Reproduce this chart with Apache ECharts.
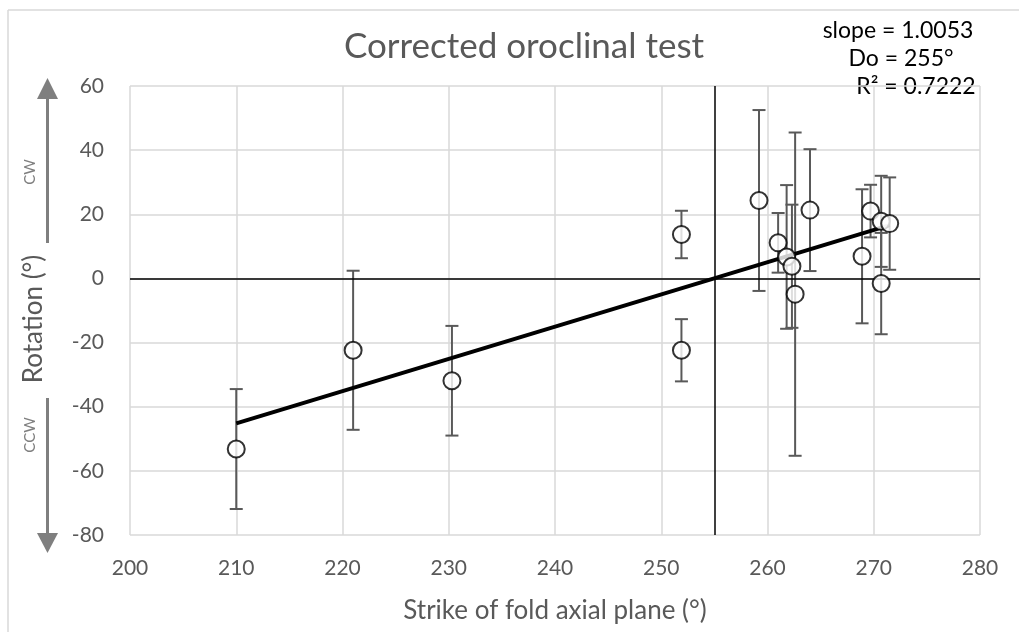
<!DOCTYPE html>
<html>
<head>
<meta charset="utf-8">
<script src="https://cdn.jsdelivr.net/npm/echarts@6/dist/echarts.min.js"></script>
<style>
  html, body { margin: 0; padding: 0; background: #ffffff; }
  #chart { width: 1019px; height: 632px; }
</style>
</head>
<body>
<div id="chart"></div>
<script>
// ---- data ----
const strikeValues   = [210.0, 221.0, 230.3, 251.9, 251.9, 259.2, 261.0, 261.8, 262.3, 262.6, 264.0, 268.9, 269.7, 270.7, 271.5, 270.7];
const rotationValues = [-53.2, -22.4, -31.9, 13.7, -22.4, 24.3, 11.1, 6.7, 3.8, -4.9, 21.3, 6.9, 21.0, 17.8, 17.1, -1.6];
const rotationErrors = [18.7, 24.8, 17.1, 7.4, 9.7, 28.2, 9.3, 22.4, 19.2, 50.4, 19.0, 20.9, 8.2, 14.2, 14.4, 15.8];
const trendX = [210, 271.5];
const trendY = [-45.2, 16.6];
const doStrike = 255;
const xTicks = [200, 210, 220, 230, 240, 250, 260, 270, 280];
const yTicks = [-80, -60, -40, -20, 0, 20, 40, 60];
const titleText = 'Corrected oroclinal test';
const xName = 'Strike of fold axial plane (°)';
const yName = 'Rotation (°)';
const statsLines = ['slope = 1.0053', 'Do = 255°', 'R² = 0.7222'];

const FONT = 'Lato, "Open Sans", sans-serif';
const chart = echarts.init(document.getElementById('chart'));

const points = strikeValues.map((x, i) => [x, rotationValues[i]]);
const errData = strikeValues.map((x, i) => [x, rotationValues[i] - rotationErrors[i], rotationValues[i] + rotationErrors[i]]);
const trendData = trendX.map((x, i) => [x, trendY[i]]);

const option = {
  backgroundColor: '#ffffff',
  animation: false,
  title: {
    text: titleText,
    left: 519,
    textAlign: 'center',
    top: 24,
    textStyle: { fontFamily: FONT, fontSize: 35, fontWeight: 'normal', color: '#595959' }
  },
  grid: { left: 130, right: 39, top: 86, height: 449 },
  xAxis: {
    type: 'value',
    min: xTicks[0], max: xTicks[xTicks.length - 1], interval: 10,
    name: xName,
    nameLocation: 'middle', nameGap: 63,
    nameTextStyle: { fontFamily: FONT, fontSize: 26, color: '#595959' },
    axisLine: { show: false },
    axisTick: { show: false },
    axisLabel: { fontFamily: FONT, fontSize: 21, color: '#595959', margin: 23 },
    splitLine: { show: true, lineStyle: { color: '#d9d9d9', width: 1.5 } }
  },
  yAxis: {
    type: 'value',
    min: yTicks[0], max: yTicks[yTicks.length - 1], interval: 20,
    axisLine: { show: false },
    axisTick: { show: false },
    axisLabel: { fontFamily: FONT, fontSize: 21, color: '#595959', margin: 26 },
    splitLine: { show: true, lineStyle: { color: '#d9d9d9', width: 1.5 } }
  },
  graphic: [
    { type: 'line', shape: { x1: 8, y1: 10, x2: 1019, y2: 10 }, style: { stroke: '#d9d9d9', lineWidth: 1.5 } },
    { type: 'line', shape: { x1: 8, y1: 10, x2: 8, y2: 632 }, style: { stroke: '#d9d9d9', lineWidth: 1.5 } },
    // CW arrow
    { type: 'line', shape: { x1: 47.5, y1: 96, x2: 47.5, y2: 243 }, style: { stroke: '#7f7f7f', lineWidth: 3 } },
    { type: 'polygon', shape: { points: [[47.5, 78], [37, 99], [58, 99]] }, style: { fill: '#7f7f7f' } },
    // CCW arrow
    { type: 'line', shape: { x1: 47.5, y1: 398, x2: 47.5, y2: 536 }, style: { stroke: '#7f7f7f', lineWidth: 3 } },
    { type: 'polygon', shape: { points: [[47.5, 553], [37, 533], [58, 533]] }, style: { fill: '#7f7f7f' } },
    { type: 'text', x: 30, y: 172, rotation: Math.PI / 2,
      style: { text: 'CW', fontFamily: FONT, fontSize: 15, fill: '#7f7f7f', align: 'center', verticalAlign: 'middle' } },
    { type: 'text', x: 30, y: 435, rotation: Math.PI / 2,
      style: { text: 'CCW', fontFamily: FONT, fontSize: 15, fill: '#7f7f7f', align: 'center', verticalAlign: 'middle' } },
    // y axis title
    { type: 'text', x: 34, y: 319, rotation: Math.PI / 2,
      style: { text: yName, fontFamily: FONT, fontSize: 26, fill: '#595959', align: 'center', verticalAlign: 'middle' } },
    // stats text
    { type: 'text', x: 898, y: 31,
      style: { text: statsLines[0], fontFamily: FONT, fontSize: 23, fill: '#000000', align: 'center', verticalAlign: 'middle' } },
    { type: 'text', x: 901, y: 59,
      style: { text: statsLines[1], fontFamily: FONT, fontSize: 23, fill: '#000000', align: 'center', verticalAlign: 'middle' } },
    { type: 'text', x: 916, y: 87,
      style: { text: statsLines[2], fontFamily: FONT, fontSize: 23, fill: '#000000', align: 'center', verticalAlign: 'middle' } }
  ],
  series: [
    {
      type: 'line',
      data: [],
      silent: true,
      z: 2,
      markLine: {
        silent: true,
        symbol: ['none', 'none'],
        label: { show: false },
        lineStyle: { color: '#000000', width: 1.5, type: 'solid' },
        data: [{ yAxis: 0 }, { xAxis: doStrike }]
      }
    },
    {
      type: 'custom',
      z: 3,
      data: errData,
      renderItem: function (params, api) {
        const x = api.value(0);
        const lo = api.coord([x, api.value(1)]);
        const hi = api.coord([x, api.value(2)]);
        const cap = 6.5;
        const style = { stroke: '#595959', lineWidth: 2 };
        return {
          type: 'group',
          children: [
            { type: 'line', shape: { x1: lo[0], y1: lo[1], x2: hi[0], y2: hi[1] }, style: style },
            { type: 'line', shape: { x1: lo[0] - cap, y1: lo[1], x2: lo[0] + cap, y2: lo[1] }, style: style },
            { type: 'line', shape: { x1: hi[0] - cap, y1: hi[1], x2: hi[0] + cap, y2: hi[1] }, style: style }
          ]
        };
      }
    },
    {
      type: 'line',
      z: 4,
      data: trendData,
      symbol: 'none',
      lineStyle: { color: '#000000', width: 4 }
    },
    {
      type: 'scatter',
      z: 5,
      data: points,
      symbol: 'circle',
      symbolSize: 17,
      itemStyle: { color: '#ffffff', borderColor: '#000000', borderWidth: 2 }
    }
  ]
};
chart.setOption(option);
</script>
</body>
</html>
